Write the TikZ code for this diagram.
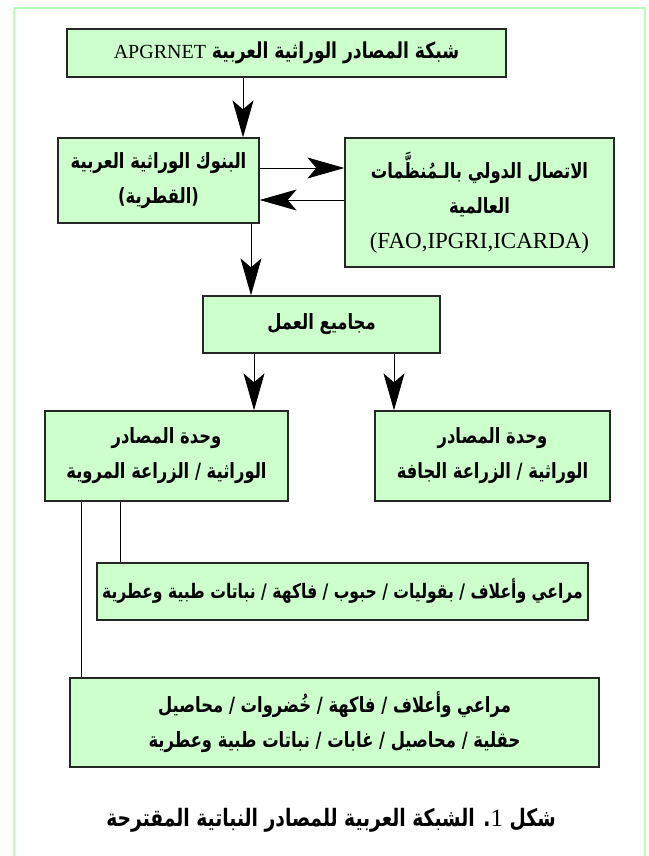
\documentclass[tikz,border=0pt]{standalone}
\usepackage{fontspec}
\setmainfont{Liberation Serif}
\newfontfamily\arabicfont[Script=Arabic,FakeStretch=0.78]{DejaVu Sans}
\TeXXeTstate=1
\usetikzlibrary{arrows.meta}
\definecolor{boxgreen}{HTML}{CCFFCC}
\definecolor{framegreen}{HTML}{B8FFB8}
\newcommand{\artext}[1]{{\arabicfont\bfseries\beginR #1\endR}}

\begin{document}
\begin{tikzpicture}[x=1pt,y=-1pt,
    box/.style={draw=black!85, fill=boxgreen, line width=1.3pt, align=center, inner sep=0pt,
        font=\fontsize{21}{35}\selectfont},
    arr/.style={line width=0.9pt, -{Stealth[length=37pt,width=21pt,inset=9pt]}},
    link/.style={line width=0.9pt}]
    \useasboundingbox (0,0) rectangle (648,856);
    \draw [framegreen, line width=1.5pt] (14,856) -- (14,8) -- (645,8) -- (645,856);
    % boxes
    \node [box, minimum width=439, minimum height=48, font=\fontsize{22}{35}\selectfont] (apgrnet) at (286.5,53)
        {\artext{شبكة المصادر الوراثية العربية \beginL{\normalfont\mdseries\fontsize{20}{35}\selectfont APGRNET}\endL}};
    \node [box, minimum width=201, minimum height=85] (banks) at (158.5,180.5)
        {\artext{البنوك الوراثية العربية}\\ \artext{(القطرية)}};
    \node [box, minimum width=269, minimum height=129] (intl) at (479.5,202.5)
        {\artext{الاتصال الدولي بالـمُنظَّمات}\\ \artext{العالمية}\\
         {\normalfont\fontsize{23}{35}\selectfont (FAO,IPGRI,ICARDA)}};
    \node [box, minimum width=237, minimum height=57] (groups) at (321.5,324.5)
        {\artext{مجاميع العمل}};
    \node [box, minimum width=243, minimum height=90] (irrigated) at (166.5,456)
        {\artext{وحدة المصادر}\\ \artext{الوراثية / الزراعة المروية}};
    \node [box, minimum width=235, minimum height=90] (dryland) at (492.5,456)
        {\artext{وحدة المصادر}\\ \artext{الوراثية / الزراعة الجافة}};
    \node [box, minimum width=491, minimum height=57, font=\fontsize{20}{34}\selectfont] (crops) at (342.5,591.5)
        {\artext{مراعي وأعلاف / بقوليات / حبوب / فاكهة / نباتات طبية وعطرية}};
    \node [box, minimum width=529, minimum height=89] (forest) at (334.5,722.5)
        {\artext{مراعي وأعلاف / فاكهة / خُضروات / محاصيل}\\ \artext{حقلية / محاصيل / غابات / نباتات طبية وعطرية}};
    \node (caption) at (331,820)
        {\fontsize{24}{26}\selectfont\artext{شكل \beginL{\normalfont\mdseries\fontsize{25}{26}\selectfont 1}\endL. الشبكة العربية للمصادر النباتية المقترحة}};
    % connectors
    \draw [arr] (apgrnet.south -| 243,0) -- (banks.north -| 243,0);
    \draw [arr] (banks.east |- 0,168) -- (intl.west |- 0,168);
    \draw [arr] (intl.west |- 0,200) -- (banks.east |- 0,200);
    \draw [arr] (banks.south -| 251,0) -- (groups.north -| 251,0);
    \draw [arr] (groups.south -| 254,0) -- (irrigated.north -| 254,0);
    \draw [arr] (groups.south -| 394,0) -- (dryland.north -| 394,0);
    \draw [link] (irrigated.south -| 120,0) -- (crops.north -| 120,0);
    \draw [link] (irrigated.south -| 81,0) -- (forest.north -| 81,0);
\end{tikzpicture}
\end{document}
